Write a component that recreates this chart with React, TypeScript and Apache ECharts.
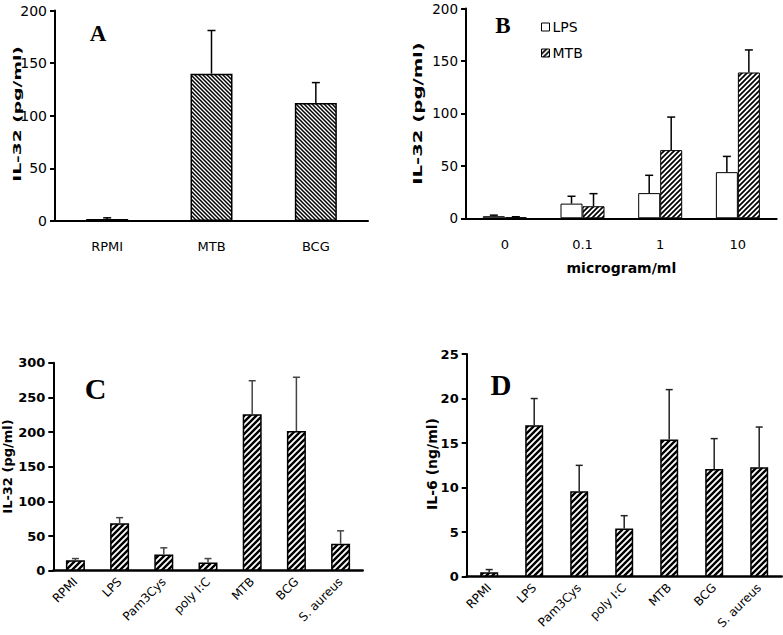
import React, { useEffect, useRef } from 'react';
import * as echarts from 'echarts';

// ---- Data ----
const catsA = ['RPMI', 'MTB', 'BCG'];
const valsA = [2, 140, 112];
const errA = [1, 41, 19.5];

const catsB = ['0', '0.1', '1', '10'];
const lpsB = [2, 14, 24, 44];
const lpsErrB = [1, 7, 17, 15];
const mtbB = [1, 11.5, 65, 139];
const mtbErrB = [0.5, 12, 31.5, 21.5];

const catsCD = ['RPMI', 'LPS', 'Pam3Cys', 'poly I:C', 'MTB', 'BCG', 'S. aureus'];
const valsC = [15, 68.5, 23.5, 12, 225.5, 201.5, 39];
const errC = [2.5, 8, 9.5, 5.5, 48.5, 77.5, 18.5];
const valsD = [0.5, 17, 9.6, 5.4, 15.4, 12.1, 12.3];
const errD = [0.3, 3, 2.9, 1.45, 5.6, 3.4, 4.5];

// ---- helpers ----
function stripe(s: number, w: number, dir: 'fwd' | 'back') {
  const d =
    dir === 'fwd'
      ? `M${-s},${s} L${s},${-s} M0,${2 * s} L${2 * s},0 M0,${s} L${s},0`
      : `M0,0 L${s},${s} M0,${-s} L${2 * s},${s} M${-s},0 L${s},${2 * s}`;
  const svg = `<svg xmlns='http://www.w3.org/2000/svg' width='${s}' height='${s}'><rect width='${s}' height='${s}' fill='white'/><path d='${d}' stroke='black' stroke-width='${w}' fill='none'/></svg>`;
  return {
    image: 'data:image/svg+xml;charset=utf-8,' + encodeURIComponent(svg),
    repeat: 'repeat',
    imageWidth: s,
    imageHeight: s,
  };
}

const FONT = 'DejaVu Sans';

function errSeries(
  xi: number,
  means: number[],
  errs: number[],
  offset: number,
  cap: number,
  color: string
) {
  return {
    type: 'custom',
    xAxisIndex: xi,
    yAxisIndex: xi,
    silent: true,
    z: 3,
    data: means.map((m, i) => [i, m, m + errs[i]]),
    renderItem: (_p: any, api: any) => {
      const i = api.value(0);
      const lo = api.coord([i, api.value(1)]);
      const hi = api.coord([i, api.value(2)]);
      const x = lo[0] + offset;
      const st = { stroke: color, lineWidth: 1.5 };
      return {
        type: 'group',
        children: [
          { type: 'line', shape: { x1: x, y1: lo[1], x2: x, y2: hi[1] }, style: st },
          { type: 'line', shape: { x1: x - cap, y1: hi[1], x2: x + cap, y2: hi[1] }, style: st },
        ],
      };
    },
  };
}

function xCat(gi: number, data: string[], extra: any = {}) {
  return {
    type: 'category',
    gridIndex: gi,
    data,
    axisLine: { lineStyle: { color: '#000', width: extra.lineW || 2 } },
    axisTick: { length: 6, lineStyle: { color: '#000', width: 2 } },
    axisLabel: {
      interval: 0,
      color: '#000',
      fontFamily: FONT,
      fontSize: 13,
      margin: 19,
      ...(extra.label || {}),
    },
    ...(extra.axis || {}),
  };
}

function yVal(gi: number, max: number, interval: number, bold: boolean, size: number) {
  return {
    type: 'value',
    gridIndex: gi,
    min: 0,
    max,
    interval,
    splitLine: { show: false },
    axisLine: { show: true, lineStyle: { color: '#000', width: 2 } },
    axisTick: { show: true, length: 5, lineStyle: { color: '#000', width: 2 } },
    axisLabel: {
      color: '#000',
      fontFamily: FONT,
      fontSize: size,
      fontWeight: bold ? 'bold' : 'normal',
      margin: 8,
    },
  };
}

function panelLetter(t: string, x: number, y: number, size: number) {
  return {
    type: 'text',
    x,
    y,
    style: {
      text: t,
      fontFamily: 'Liberation Serif',
      fontWeight: 'bold',
      fontSize: size,
      fill: '#000',
      align: 'center',
      verticalAlign: 'middle',
    },
  };
}

function yTitle(t: string, x: number, y: number, size: number, stretch: number) {
  return {
    type: 'text',
    x,
    y,
    rotation: Math.PI / 2,
    scaleX: stretch,
    style: {
      text: t,
      fontFamily: FONT,
      fontWeight: 'bold',
      fontSize: size,
      fill: '#000',
      align: 'center',
      verticalAlign: 'middle',
    },
  };
}

export default function App() {
  const ref = useRef<HTMLDivElement>(null);
  useEffect(() => {
    document.body.style.margin = '0';
    if (!ref.current) return;
    const chart = echarts.init(ref.current, null, { renderer: 'svg' });

    const patA = stripe(4, 1.5, 'back');
    const patB = stripe(5, 1.7, 'fwd');
    const patCD = stripe(6, 2.4, 'fwd');
    const barBorder = { borderColor: '#000', borderWidth: 1.5 };

    const option: any = {
      animation: false,
      backgroundColor: '#fff',
      grid: [
        { left: 55, top: 10.5, width: 313, height: 210.5, outerBoundsMode: 'none' },
        { left: 466, top: 8.5, width: 310.7, height: 209.8, outerBoundsMode: 'none' },
        { left: 53.3, top: 362.7, width: 309.4, height: 208, outerBoundsMode: 'none' },
        { left: 466.7, top: 354, width: 315, height: 222.7, outerBoundsMode: 'none' },
      ],
      xAxis: [
        xCat(0, catsA),
        xCat(1, catsB, {
          axis: {
            name: 'microgram/ml',
            nameLocation: 'middle',
            nameGap: 43,
            nameTextStyle: { fontFamily: FONT, fontWeight: 'bold', fontSize: 14, color: '#000' },
          },
          label: { margin: 20 },
        }),
        xCat(2, catsCD, { lineW: 2.5, label: { rotate: 45, fontSize: 12, margin: 9 } }),
        xCat(3, catsCD, { lineW: 2.5, label: { rotate: 45, fontSize: 12, margin: 9 } }),
      ],
      yAxis: [
        yVal(0, 200, 50, false, 14),
        yVal(1, 200, 50, false, 13.5),
        yVal(2, 300, 50, true, 13),
        yVal(3, 25, 5, true, 13),
      ],
      legend: {
        data: ['LPS', 'MTB'],
        orient: 'vertical',
        left: 541,
        top: 20,
        padding: 0,
        itemWidth: 8,
        itemHeight: 8,
        itemGap: 12,
        icon: 'rect',
        itemStyle: { borderColor: '#000', borderWidth: 1 },
        textStyle: { fontFamily: FONT, fontSize: 14, color: '#000', padding: [0, 0, 0, -2] },
      },
      series: [
        {
          name: 'IL-32 A',
          type: 'bar',
          xAxisIndex: 0,
          yAxisIndex: 0,
          data: valsA,
          barWidth: 42,
          itemStyle: { color: patA, ...barBorder },
        },
        errSeries(0, valsA, errA, 0, 4, '#000'),
        {
          name: 'LPS',
          type: 'bar',
          xAxisIndex: 1,
          yAxisIndex: 1,
          data: lpsB,
          barWidth: 22,
          barGap: '0%',
          itemStyle: { color: '#fff', borderColor: '#000', borderWidth: 1 },
        },
        {
          name: 'MTB',
          type: 'bar',
          xAxisIndex: 1,
          yAxisIndex: 1,
          data: mtbB,
          barWidth: 22,
          barGap: '0%',
          itemStyle: { color: patB, borderColor: '#000', borderWidth: 1 },
        },
        errSeries(1, lpsB, lpsErrB, -11, 4, '#000'),
        errSeries(1, mtbB, mtbErrB, 11, 4, '#000'),
        {
          name: 'IL-32 C',
          type: 'bar',
          xAxisIndex: 2,
          yAxisIndex: 2,
          data: valsC,
          barWidth: 19,
          itemStyle: { color: patCD, ...barBorder },
        },
        errSeries(2, valsC, errC, 0, 3.5, '#444'),
        {
          name: 'IL-6 D',
          type: 'bar',
          xAxisIndex: 3,
          yAxisIndex: 3,
          data: valsD,
          barWidth: 18,
          itemStyle: { color: patCD, ...barBorder },
        },
        errSeries(3, valsD, errD, 0, 3.5, '#222'),
      ],
      graphic: [
        panelLetter('A', 98, 33, 23),
        panelLetter('B', 503, 25, 23),
        panelLetter('C', 95.5, 388, 30),
        panelLetter('D', 501, 385, 29),
        yTitle('IL-32 (pg/ml)', 17, 114, 11, 1.7),
        yTitle('IL-32 (pg/ml)', 418.5, 113.5, 11.5, 1.71),
        yTitle('IL-32 (pg/ml)', 7, 466.5, 13, 1),
        yTitle('IL-6 (ng/ml)', 432, 464, 14, 1),
      ],
    };
    chart.setOption(option);
    return () => chart.dispose();
  }, []);
  return <div ref={ref} style={{ width: 783, height: 635 }} />;
}
